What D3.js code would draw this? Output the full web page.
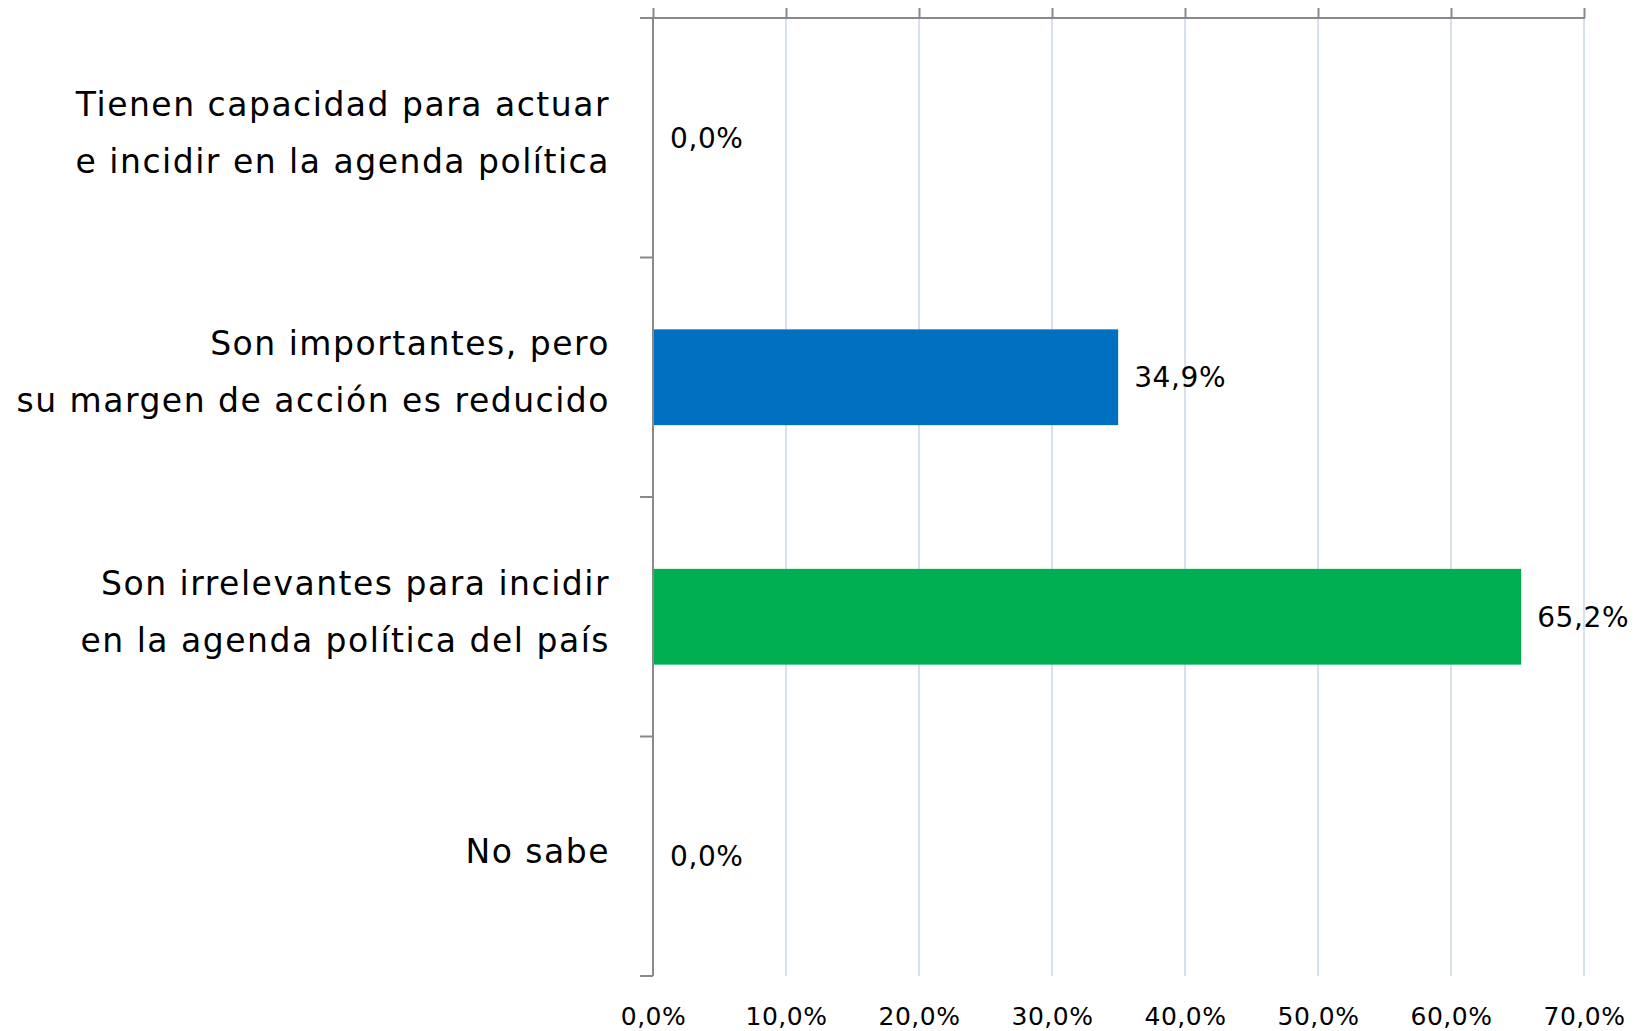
<!DOCTYPE html>
<html>
<head>
<meta charset="utf-8">
<script src="https://cdn.jsdelivr.net/npm/d3@7"></script>
<style>
  body { margin: 0; background: #fff; }
  text { font-family: "DejaVu Sans", sans-serif; fill: #000; }
</style>
</head>
<body>
<div class="chart"></div>
<script>
var categories = [
  ["Tienen capacidad para actuar", "e incidir en la agenda política"],
  ["Son importantes, pero", "su margen de acción es reducido"],
  ["Son irrelevantes para incidir", "en la agenda política del país"],
  ["No sabe"]
];
var values = [0.0, 34.9, 65.2, 0.0];
var barColors = ["#0070C0", "#0070C0", "#00B050", "#00B050"];
var ticks = [0, 10, 20, 30, 40, 50, 60, 70];

var margin = {top: 18, right: 57, bottom: 55, left: 653};
var width = 1641 - margin.left - margin.right;
var height = 1031 - margin.top - margin.bottom;

var svg = d3.select(".chart")
  .append("svg")
  .attr("width", width + margin.left + margin.right)
  .attr("height", height + margin.top + margin.bottom)
  .append("g")
  .attr("transform", "translate(" + margin.left + "," + margin.top + ")");

var x = d3.scaleLinear().domain([0, 70]).range([0, width]);
var y = d3.scaleBand().domain(d3.range(categories.length)).range([0, height]).paddingInner(0.6).paddingOuter(0.3);
var band = d3.scaleBand().domain(d3.range(categories.length)).range([0, height]);

var fmt = function(v) { return d3.format(".1f")(v).replace(".", ",") + "%"; };

// gridlines
svg.append("g")
  .selectAll("line")
  .data(ticks.slice(1))
  .enter().append("line")
  .attr("x1", d => x(d)).attr("x2", d => x(d))
  .attr("y1", 0).attr("y2", height)
  .attr("stroke", "#D6E0EE").attr("stroke-width", 2);

// top axis
var topAxis = svg.append("g")
  .call(d3.axisTop(x).tickValues(ticks).tickSize(10).tickFormat(""));
topAxis.select(".domain").remove();
topAxis.selectAll(".tick line").attr("stroke", "#898989").attr("stroke-width", 2);
svg.append("line")
  .attr("x1", -13).attr("x2", width + 1)
  .attr("y1", 0).attr("y2", 0)
  .attr("stroke", "#898989").attr("stroke-width", 2);

// bottom labels
var bottomAxis = svg.append("g")
  .attr("transform", "translate(0," + (height + 28) + ")")
  .call(d3.axisBottom(x).tickValues(ticks).tickSize(0).tickFormat(fmt));
bottomAxis.select(".domain").remove();
bottomAxis.selectAll("text").style("font-size", "25px").style("letter-spacing", "0.5px").attr("fill", "#000");

// bars
svg.selectAll("rect.bar")
  .data(values)
  .enter().append("rect")
  .attr("class", "bar")
  .attr("x", 1)
  .attr("y", (d, i) => y(i))
  .attr("width", d => x(d))
  .attr("height", y.bandwidth())
  .attr("fill", (d, i) => barColors[i]);

// value labels
svg.selectAll("text.val")
  .data(values)
  .enter().append("text")
  .attr("class", "val")
  .attr("x", d => x(d) + 17)
  .attr("y", (d, i) => y(i) + y.bandwidth() / 2)
  .attr("dy", "0.35em")
  .style("font-size", "28px")
  .style("letter-spacing", "0.6px")
  .text(fmt);

// left axis line and boundary ticks
svg.append("line")
  .attr("x1", 0).attr("x2", 0).attr("y1", 0).attr("y2", height)
  .attr("stroke", "#898989").attr("stroke-width", 2);
svg.append("g")
  .selectAll("line")
  .data(d3.range(1, categories.length + 1))
  .enter().append("line")
  .attr("x1", -13).attr("x2", 0)
  .attr("y1", i => i * band.step()).attr("y2", i => i * band.step())
  .attr("stroke", "#898989").attr("stroke-width", 2);

// category labels
var lineH = 57;
svg.selectAll("text.cat")
  .data(categories)
  .enter().append("text")
  .attr("class", "cat")
  .attr("text-anchor", "end")
  .attr("x", -43)
  .attr("y", (d, i) => band(i) + band.bandwidth() / 2 - (d.length - 1) * lineH / 2 - 5)
  .style("font-size", "33px")
  .style("letter-spacing", "1.5px")
  .each(function(d) {
    var t = d3.select(this);
    d.forEach(function(line, k) {
      t.append("tspan").attr("x", -43).attr("dy", k === 0 ? "0.35em" : lineH).text(line);
    });
  });
</script>
</body>
</html>
